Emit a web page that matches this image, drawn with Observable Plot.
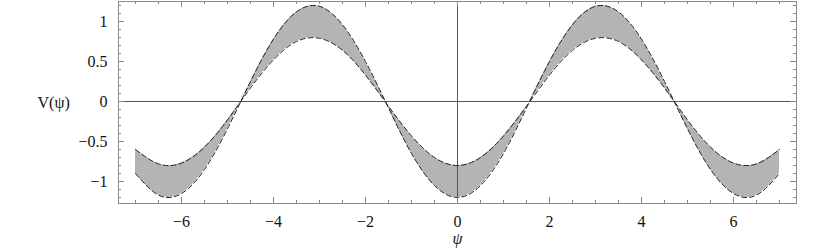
<!DOCTYPE html>
<html><head><meta charset="utf-8">
<script src="https://cdn.jsdelivr.net/npm/d3@7"></script>
<script src="https://cdn.jsdelivr.net/npm/@observablehq/plot@0.6"></script>
<style>
body{margin:0;background:#fff}
svg text{font-family:"Liberation Serif","Times New Roman",serif !important;}
</style>
</head><body><div id="chart"></div>
<script>
const psi = [-7,-6.5,-6,-5.5,-5,-4.5,-4,-3.5,-3,-2.5,-2,-1.5,-1,-0.5,0,0.5,1,1.5,2,2.5,3,3.5,4,4.5,5,5.5,6,6.5,7];
const vLow = [-0.60,-0.78,-0.77,-0.57,-0.23,0.17,0.52,0.75,0.79,0.64,0.33,-0.06,-0.43,-0.70,-0.80,-0.70,-0.43,-0.06,0.33,0.64,0.79,0.75,0.52,0.17,-0.23,-0.57,-0.77,-0.78,-0.60];
const vHigh = [-0.90,-1.17,-1.15,-0.85,-0.34,0.25,0.78,1.12,1.19,0.96,0.50,-0.08,-0.65,-1.05,-1.20,-1.05,-0.65,-0.08,0.50,0.96,1.19,1.12,0.78,0.25,-0.34,-0.85,-1.15,-1.17,-0.90];
const xTicks = [-6,-4,-2,0,2,4,6];
const xTickLabels = ["\u22126","\u22124","\u22122","0","2","4","6"];
const yTicks = [-1,-0.5,0,0.5,1];
const yTickLabels = ["\u22121","\u22120.5","0","0.5","1"];
const xMinor = d3.range(-7,7.01,0.5).filter(v => !xTicks.includes(v));
const yMinor = d3.range(-12,13).map(v => v/10).filter(v => !yTicks.includes(v));

const data = psi.map((p,i) => ({psi:p, lo:vLow[i], hi:vHigh[i]}));
const W = 830, H = 249, mL = 118, mR = 34, mT = 1, mB = 46;
const pw = W - mL - mR, ph = H - mT - mB;
const font = "Liberation Serif, Times New Roman, serif";
const frameC = "#8a8a8a";

const chart = Plot.plot({
  width: W, height: H,
  marginLeft: mL, marginRight: mR, marginTop: mT, marginBottom: mB,
  style: {fontFamily: font, fontSize: "16px", background: "#fff", color: "#111"},
  x: {domain: [-7.37, 7.37]},
  y: {domain: [-1.275, 1.25]},
  marks: [
    Plot.areaY(data, {x: "psi", y1: "lo", y2: "hi", fill: "#b4b4b4", curve: "natural"}),
    Plot.ruleY([0], {stroke: "#555", strokeWidth: 1}),
    Plot.ruleX([0], {stroke: "#555", strokeWidth: 1}),
    Plot.lineY(data, {x: "psi", y: "lo", stroke: "#222", strokeWidth: 1, strokeDasharray: "5,3", curve: "natural"}),
    Plot.lineY(data, {x: "psi", y: "hi", stroke: "#222", strokeWidth: 1, strokeDasharray: "5,3", curve: "natural"}),
    Plot.frame({stroke: frameC, strokeWidth: 1}),
    Plot.tickX(xTicks, {x: d => d, stroke: frameC, insetTop: ph - 6}),
    Plot.tickX(xTicks, {x: d => d, stroke: frameC, insetBottom: ph - 6}),
    Plot.tickX(xMinor, {x: d => d, stroke: frameC, insetTop: ph - 3}),
    Plot.tickX(xMinor, {x: d => d, stroke: frameC, insetBottom: ph - 3}),
    Plot.tickY(yTicks, {y: d => d, stroke: frameC, insetRight: pw - 6}),
    Plot.tickY(yTicks, {y: d => d, stroke: frameC, insetLeft: pw - 6}),
    Plot.tickY(yMinor, {y: d => d, stroke: frameC, insetRight: pw - 3}),
    Plot.tickY(yMinor, {y: d => d, stroke: frameC, insetLeft: pw - 3}),
    Plot.axisX({ticks: xTicks, tickSize: 0, tickPadding: 12, tickFormat: d => xTickLabels[xTicks.indexOf(d)], label: null, fontSize: 16}),
    Plot.axisY({ticks: yTicks, tickSize: 0, tickPadding: 11, tickFormat: d => yTickLabels[yTicks.indexOf(d)], label: null, fontSize: 16}),
    Plot.text(["V(\u03c8)"], {frameAnchor: "left", dx: 37 - mL, textAnchor: "start", fontSize: 16, fill: "#111"}),
    Plot.text(["\u03c8"], {frameAnchor: "bottom", x: 0, dy: 40, fontSize: 16, fontStyle: "italic", fill: "#111"})
  ]
});
document.getElementById("chart").append(chart);
</script>
</body></html>
